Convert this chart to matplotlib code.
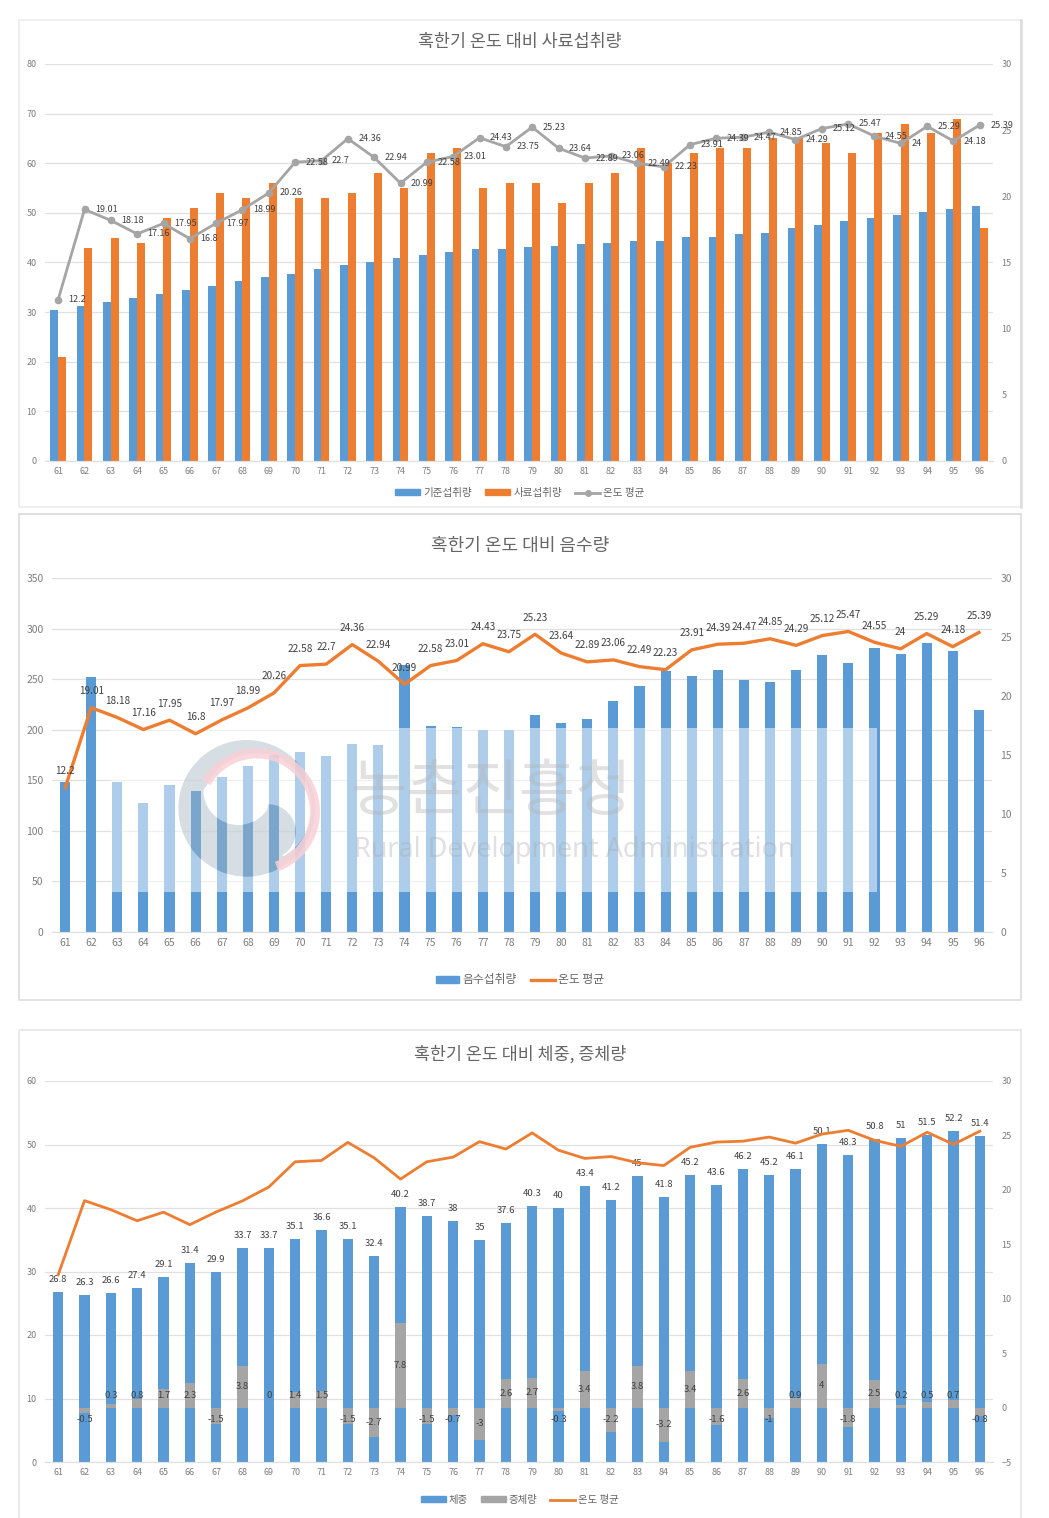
"""Three stacked combo charts: feed intake, water intake and body weight against mean temperature."""
import numpy as np
import matplotlib
matplotlib.use('Agg')
import matplotlib.pyplot as plt
from matplotlib.lines import Line2D
from matplotlib.patches import PathPatch, Patch, Rectangle, Wedge
from matplotlib.path import Path
from matplotlib.transforms import Affine2D

plt.rcParams['font.family'] = ['Noto Sans CJK KR', 'DejaVu Sans']

W, H = 1049, 1518

days = [str(d) for d in range(61, 97)]
temp = [12.2, 19.01, 18.18, 17.16, 17.95, 16.8, 17.97, 18.99, 20.26, 22.58, 22.7, 24.36,
        22.94, 20.99, 22.58, 23.01, 24.43, 23.75, 25.23, 23.64, 22.89, 23.06, 22.49, 22.23,
        23.91, 24.39, 24.47, 24.85, 24.29, 25.12, 25.47, 24.55, 24, 25.29, 24.18, 25.39]

# top chart
base_feed = [30.5, 31.3, 32, 32.9, 33.7, 34.4, 35.3, 36.3, 37.1, 37.7, 38.7, 39.5,
             40.2, 40.9, 41.5, 42.1, 42.7, 42.7, 43.2, 43.3, 43.8, 43.9, 44.4, 44.4,
             45.2, 45.2, 45.8, 46, 47, 47.6, 48.4, 49, 49.6, 50.2, 50.8, 51.4]
feed = [21, 43, 45, 44, 49, 51, 54, 53, 56, 53, 53, 54, 58, 55, 62, 63, 55, 56,
        56, 52, 56, 58, 63, 60, 62, 63, 63, 65, 65, 64, 62, 66, 68, 66, 69, 47]

# middle chart
water = [148, 252, 148, 128, 145, 139, 153.6, 164.5, 175, 177.6, 174, 186,
         185, 264, 204, 203, 200, 200, 214.6, 207, 211, 228, 243, 258,
         253, 259, 249.5, 247.5, 259, 274, 266, 281, 275, 286, 278, 219]

# bottom chart
weight = [26.8, 26.3, 26.6, 27.4, 29.1, 31.4, 29.9, 33.7, 33.7, 35.1, 36.6, 35.1,
          32.4, 40.2, 38.7, 38, 35, 37.6, 40.3, 40, 43.4, 41.2, 45, 41.8,
          45.2, 43.6, 46.2, 45.2, 46.1, 50.1, 48.3, 50.8, 51, 51.5, 52.2, 51.4]
gain = [None, -0.5, 0.3, 0.8, 1.7, 2.3, -1.5, 3.8, 0, 1.4, 1.5, -1.5,
        -2.7, 7.8, -1.5, -0.7, -3, 2.6, 2.7, -0.3, 3.4, -2.2, 3.8, -3.2,
        3.4, -1.6, 2.6, -1, 0.9, 4, -1.8, 2.5, 0.2, 0.5, 0.7, -0.8]

BLUE = '#5b9bd5'
ORANGE = '#ed7d31'
GRAY = '#a5a5a5'
GRID = '#e0e0e0'
TICK = '#7f7f7f'
LABEL = '#404040'
TITLE = '#666666'

x = np.arange(len(days))
fig = plt.figure(figsize=(W / 100, H / 100), dpi=100, facecolor='white')

# y grows downward here, so the frames and watermark can be placed in image pixels
to_px = Affine2D().scale(1 / W, -1 / H).translate(0, 1) + fig.transFigure


def make_axes(left, top, right, bottom, ylim, yticks, rlim, rticks, tick_size):
    ax = fig.add_axes([left / W, 1 - bottom / H, (right - left) / W, (bottom - top) / H])
    ax2 = ax.twinx()
    ax.set_xlim(-0.5, len(days) - 0.5)
    ax.set_ylim(*ylim)
    ax2.set_ylim(*rlim)
    ax.set_yticks(yticks)
    ax2.set_yticks(rticks)
    ax.set_xticks(x, days)
    ax.grid(axis='y', color=GRID, lw=0.9)
    ax.set_axisbelow(True)
    for a in (ax, ax2):
        for name, sp in a.spines.items():
            sp.set_visible(name == 'bottom')
            sp.set_color(GRID)
        a.tick_params(length=0, labelsize=tick_size, labelcolor=TICK)
    ax.tick_params(axis='y', pad=6)
    ax.tick_params(axis='x', pad=4)
    ax2.tick_params(axis='y', pad=6)
    return ax, ax2


def frame(left, top, right, bottom, color):
    fig.add_artist(Rectangle((left, top), right - left, bottom - top, transform=to_px,
                             fc='none', ec=color, lw=1.2))


def title(text, y, size):
    fig.text(520 / W, 1 - y / H, text, ha='center', va='center', fontsize=size, color=TITLE)


def legend(handles, y, size, handlelength=2.4):
    fig.legend(handles=handles, loc='center', bbox_to_anchor=(520 / W, 1 - y / H), ncol=len(handles),
               frameon=False, fontsize=size, labelcolor=TITLE, handlelength=handlelength, handleheight=0.55,
               columnspacing=1.2, handletextpad=0.3, borderpad=0)


def arc(cx, cy, r, start, stop):
    # arc in crop pixels of the emblem, angles in degrees with y pointing down
    t = np.radians(np.linspace(start, stop, 60))
    return np.column_stack((160 + (cx + r * np.cos(t)) / 3, 720 + (cy + r * np.sin(t)) / 3))


# ---- top chart: feed intake
frame(18.5, 20, 1021, 507, '#ececec')
fig.add_artist(Line2D([1021, 1021], [20, 507], transform=to_px, color='#dcdcdc', lw=1.8))
title('혹한기 온도 대비 사료섭취량', 42, 12.5)
ax, ax2 = make_axes(45, 64, 993, 461, (0, 80), range(0, 81, 10), (0, 30), range(0, 31, 5), 6.5)
ax.bar(x - 0.147, base_feed, 0.295, color=BLUE)
ax.bar(x + 0.147, feed, 0.295, color=ORANGE)
ax2.plot(x, temp, color=GRAY, lw=2, marker='o', ms=4.5)
for i, t in enumerate(temp):
    ax2.annotate(f'{t:g}', (i, t), xytext=(7.5, 0), textcoords='offset points', ha='left', va='center',
                 fontsize=6.5, color=LABEL)
legend([Patch(color=BLUE, label='기준섭취량'), Patch(color=ORANGE, label='사료섭취량'),
        Line2D([], [], color=GRAY, lw=2, marker='o', ms=4, label='온도 평균')], 493, 7.6)

# ---- middle chart: water intake, with the watermark laid over the bars
frame(19, 513.5, 1021, 999.5, '#dcdcdc')
title('혹한기 온도 대비 음수량', 546, 13)
ax, ax2 = make_axes(52, 578, 992, 932, (0, 350), range(0, 351, 50), (0, 30), range(0, 31, 5), 7.5)
ax.bar(x, water, 0.385, color=BLUE, zorder=2)
ax.add_patch(Rectangle((111, 728), 766, 164, transform=to_px, fc='white', alpha=0.5, ec='none', zorder=3))

# taegeuk outline: outer disk, with the white comma cut out of it
disk = Path(arc(260, 265, 205, 0, 360), closed=True)
hole = np.vstack((arc(235, 210, 105, 180, 35), arc(325, 335, 82, -90, 60), arc(290, 265, 165, 60, -160)))
emblem = Path.make_compound_path(disk, Path(hole, closed=True))
for rect in ax.bar(x, water, 0.385, color=BLUE, zorder=4):
    rect.set_clip_path(emblem, to_px)
ax.add_patch(PathPatch(emblem, transform=to_px, fc='#a4b4c1', ec='none', alpha=0.45, zorder=5, clip_on=False))
ax.add_patch(Wedge((256.7, 811.7), 63.3, -150, 70, width=10, transform=to_px, fc='#f8d0d6', ec='none',
                   alpha=0.85, zorder=5, clip_on=False))
ax.text(492, 793, '농촌진흥청', transform=to_px, ha='center', va='center', fontsize=44,
        color='#b5b5b5', alpha=0.4, zorder=5)
ax.text(574, 850, 'Rural Development Administration', transform=to_px, ha='center', va='center',
        fontsize=19.5, color='#a8a8a8', alpha=0.35, zorder=5, family=['Noto Sans', 'DejaVu Sans'])

ax2.plot(x, temp, color=ORANGE, lw=2.4)
for i, t in enumerate(temp):
    ax2.annotate(f'{t:g}', (i, t), xytext=(0, 12), textcoords='offset points', ha='center', va='center',
                 fontsize=7.2, color=LABEL)
legend([Patch(color=BLUE, label='음수섭취량'), Line2D([], [], color=ORANGE, lw=2.4, label='온도 평균')],
       980, 8.5, handlelength=2)

# ---- bottom chart: body weight and gain
frame(19, 1029.5, 1021, 1530, '#e6e6e6')
title('혹한기 온도 대비 체중, 증체량', 1054, 12.5)
ax, ax2 = make_axes(45, 1081, 993, 1462, (0, 60), range(0, 61, 10), (-5, 30), range(-5, 31, 5), 6.5)
ax.bar(x, weight, 0.385, color=BLUE)
gain_vals = [0 if g is None else g for g in gain]
ax2.bar(x, gain_vals, 0.385, color=GRAY)
ax2.plot(x, temp, color=ORANGE, lw=2)
for i, w in enumerate(weight):
    ax.annotate(f'{w:g}', (i, w), xytext=(0, 9), textcoords='offset points', ha='center', va='center',
                fontsize=6.8, color=LABEL)
px_per_unit = (1462 - 1081) / 35
for i, g in enumerate(gain):
    if g is None:
        continue
    # short bars keep their label a fixed distance off the base line
    dist = max(abs(g) / 2 * px_per_unit, 12) * 0.72
    ax2.annotate(f'{g:g}', (i, 0), xytext=(0, dist if g >= 0 else -dist), textcoords='offset points',
                 ha='center', va='center', fontsize=6.8, color=LABEL)
legend([Patch(color=BLUE, label='체중'), Patch(color=GRAY, label='증체량'),
        Line2D([], [], color=ORANGE, lw=2, label='온도 평균')], 1500, 7.5)

fig.savefig('out.png', dpi=100)
